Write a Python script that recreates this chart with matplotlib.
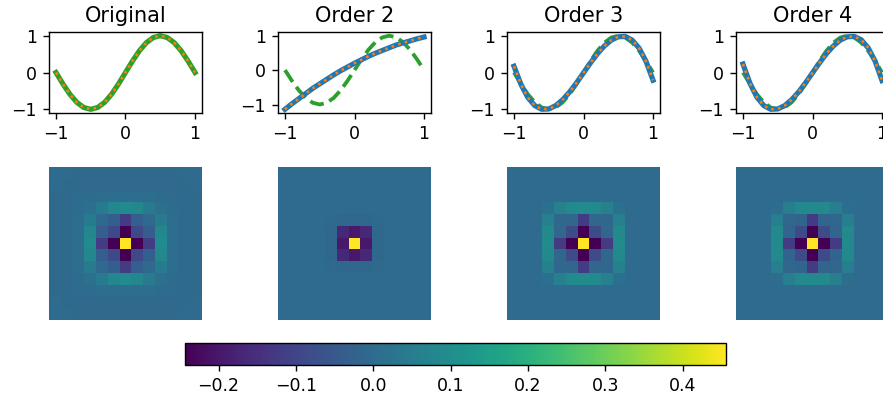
import numpy as np
import matplotlib
matplotlib.use("Agg")
import matplotlib.pyplot as plt

# x grid for the top row
x = np.round(np.linspace(-1, 1, 21), 2)

target = [0, -0.31, -0.59, -0.81, -0.95, -1.0, -0.95, -0.81, -0.59, -0.31, 0,
          0.31, 0.59, 0.81, 0.95, 1.0, 0.95, 0.81, 0.59, 0.31, 0]

# polynomial fits
order2_fit = [-1.14, -0.98, -0.83, -0.68, -0.53, -0.40, -0.27, -0.14, -0.02, 0.09, 0.20,
              0.30, 0.40, 0.49, 0.57, 0.65, 0.73, 0.79, 0.85, 0.91, 0.96]
order3_fit = [0.17, -0.32, -0.68, -0.90, -1.00, -0.99, -0.90, -0.74, -0.53, -0.28, -0.01,
              0.26, 0.51, 0.72, 0.88, 0.97, 0.98, 0.88, 0.66, 0.30, -0.21]
order4_fit = [0.23, -0.29, -0.67, -0.90, -1.00, -0.99, -0.90, -0.74, -0.53, -0.28, -0.01,
              0.26, 0.51, 0.72, 0.88, 0.97, 0.98, 0.89, 0.67, 0.31, -0.22]

titles = ["Original", "Order 2", "Order 3", "Order 4"]

# 13x13 kernels (bottom row)
orig_kernel = [
    [0, 0, -.003, -.003, -.003, -.003, -.003, -.003, -.003, -.003, -.003, 0, 0],
    [0, -.003, -.006, -.006, -.006, -.006, -.006, -.006, -.006, -.006, -.006, -.003, 0],
    [-.003, -.006, 0, .004, .008, .01, .01, .01, .008, .004, 0, -.006, -.003],
    [-.003, -.006, .004, .015, .045, .08, .095, .08, .045, .015, .004, -.006, -.003],
    [-.003, -.006, .008, .045, -.005, -.035, -.12, -.035, -.005, .045, .008, -.006, -.003],
    [-.003, -.006, .01, .08, -.035, -.09, -.244, -.09, -.035, .08, .01, -.006, -.003],
    [-.003, -.006, .01, .095, -.12, -.244, .456, -.244, -.12, .095, .01, -.006, -.003],
    [-.003, -.006, .01, .08, -.035, -.09, -.244, -.09, -.035, .08, .01, -.006, -.003],
    [-.003, -.006, .008, .045, -.005, -.035, -.12, -.035, -.005, .045, .008, -.006, -.003],
    [-.003, -.006, .004, .015, .045, .08, .095, .08, .045, .015, .004, -.006, -.003],
    [-.003, -.006, 0, .004, .008, .01, .01, .01, .008, .004, 0, -.006, -.003],
    [0, -.003, -.006, -.006, -.006, -.006, -.006, -.006, -.006, -.006, -.006, -.003, 0],
    [0, 0, -.003, -.003, -.003, -.003, -.003, -.003, -.003, -.003, -.003, 0, 0],
]
order2_kernel = [
    [0, 0, 0, 0, 0, 0, 0, 0, 0, 0, 0, 0, 0],
    [0, 0, 0, 0, 0, 0, 0, 0, 0, 0, 0, 0, 0],
    [0, 0, 0, 0, 0, 0, 0, 0, 0, 0, 0, 0, 0],
    [0, 0, 0, 0, 0, 0, 0, 0, 0, 0, 0, 0, 0],
    [0, 0, 0, 0, -.004, -.007, -.008, -.007, -.004, 0, 0, 0, 0],
    [0, 0, 0, 0, -.007, -.165, -.195, -.165, -.007, 0, 0, 0, 0],
    [0, 0, 0, 0, -.008, -.195, .456, -.195, -.008, 0, 0, 0, 0],
    [0, 0, 0, 0, -.007, -.165, -.195, -.165, -.007, 0, 0, 0, 0],
    [0, 0, 0, 0, -.004, -.007, -.008, -.007, -.004, 0, 0, 0, 0],
    [0, 0, 0, 0, 0, 0, 0, 0, 0, 0, 0, 0, 0],
    [0, 0, 0, 0, 0, 0, 0, 0, 0, 0, 0, 0, 0],
    [0, 0, 0, 0, 0, 0, 0, 0, 0, 0, 0, 0, 0],
    [0, 0, 0, 0, 0, 0, 0, 0, 0, 0, 0, 0, 0],
]
order3_kernel = [
    [0, 0, 0, 0, 0, 0, 0, 0, 0, 0, 0, 0, 0],
    [0, 0, 0, 0, 0, 0, 0, 0, 0, 0, 0, 0, 0],
    [0, 0, 0, 0, 0, 0, 0, 0, 0, 0, 0, 0, 0],
    [0, 0, 0, .012, .06, .088, .095, .088, .06, .012, 0, 0, 0],
    [0, 0, 0, .06, -.01, -.012, -.12, -.012, -.01, .06, 0, 0, 0],
    [0, 0, 0, .088, -.012, -.085, -.244, -.085, -.012, .088, 0, 0, 0],
    [0, 0, 0, .095, -.12, -.244, .456, -.244, -.12, .095, 0, 0, 0],
    [0, 0, 0, .088, -.012, -.085, -.244, -.085, -.012, .088, 0, 0, 0],
    [0, 0, 0, .06, -.01, -.012, -.12, -.012, -.01, .06, 0, 0, 0],
    [0, 0, 0, .012, .06, .088, .095, .088, .06, .012, 0, 0, 0],
    [0, 0, 0, 0, 0, 0, 0, 0, 0, 0, 0, 0, 0],
    [0, 0, 0, 0, 0, 0, 0, 0, 0, 0, 0, 0, 0],
    [0, 0, 0, 0, 0, 0, 0, 0, 0, 0, 0, 0, 0],
]
order4_kernel = [
    [0, 0, 0, 0, 0, 0, 0, 0, 0, 0, 0, 0, 0],
    [0, 0, 0, 0, 0, 0, 0, 0, 0, 0, 0, 0, 0],
    [0, 0, 0, 0, 0, 0, 0, 0, 0, 0, 0, 0, 0],
    [0, 0, 0, .01, .055, .085, .092, .085, .055, .01, 0, 0, 0],
    [0, 0, 0, .055, -.012, -.015, -.12, -.015, -.012, .055, 0, 0, 0],
    [0, 0, 0, .085, -.015, -.085, -.244, -.085, -.015, .085, 0, 0, 0],
    [0, 0, 0, .092, -.12, -.244, .456, -.244, -.12, .092, 0, 0, 0],
    [0, 0, 0, .085, -.015, -.085, -.244, -.085, -.015, .085, 0, 0, 0],
    [0, 0, 0, .055, -.012, -.015, -.12, -.015, -.012, .055, 0, 0, 0],
    [0, 0, 0, .01, .055, .085, .092, .085, .055, .01, 0, 0, 0],
    [0, 0, 0, 0, 0, 0, 0, 0, 0, 0, 0, 0, 0],
    [0, 0, 0, 0, 0, 0, 0, 0, 0, 0, 0, 0, 0],
    [0, 0, 0, 0, 0, 0, 0, 0, 0, 0, 0, 0, 0],
]

fits = [None, order2_fit, order3_fit, order4_fit]
kernels = [orig_kernel, order2_kernel, order3_kernel, order4_kernel]
VMIN, VMAX = -0.244, 0.456

W, H = 883, 396
fig = plt.figure(figsize=(W / 125, H / 125), dpi=125)

lefts = [49, 278, 507, 736]
ax_w = 153 / W

for i in range(4):
    left = lefts[i] / W
    ax = fig.add_axes([left, 1 - 113 / H, ax_w, 81 / H])
    if fits[i] is None:
        ax.plot(x, target, color="C2", lw=3)
        ax.plot(x, target, color="C1", ls=":", lw=1.5)
    else:
        ax.plot(x, target, color="C2", ls="--", lw=2.2)
        ax.plot(x, fits[i], color="C0", lw=3)
        ax.plot(x, fits[i], color="C1", ls=":", lw=1.5)
    ax.set_xticks([-1, 0, 1])
    ax.set_yticks([-1, 0, 1])
    ax.set_title(titles[i])

    axi = fig.add_axes([left, 1 - 320 / H, ax_w, 153 / H])
    im = axi.imshow(np.array(kernels[i]), cmap="viridis", vmin=VMIN, vmax=VMAX,
                    interpolation="nearest", aspect="auto")
    axi.axis("off")

cax = fig.add_axes([184.5 / W, 1 - 364.5 / H, 541.5 / W, 21.5 / H])
fig.colorbar(im, cax=cax, orientation="horizontal")

fig.savefig("out.png", dpi=125)
